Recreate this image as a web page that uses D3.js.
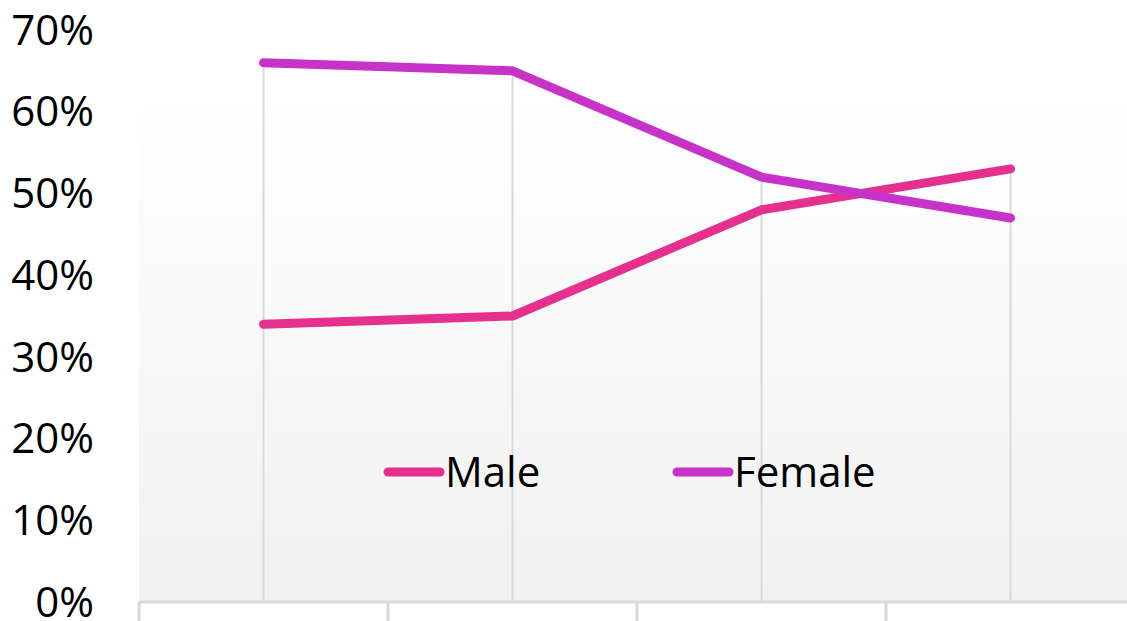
<!DOCTYPE html>
<html><head><meta charset="utf-8">
<script src="https://cdn.jsdelivr.net/npm/d3@7"></script>
<style>body{margin:0;background:#fff}svg{display:block}</style>
</head><body>
<svg id="c" width="1127" height="621"></svg>
<script>
const categories = ["A","B","C","D"];
const maleValues = [0.34, 0.35, 0.48, 0.53];
const femaleValues = [0.66, 0.65, 0.52, 0.47];
const yTicks = [0,0.1,0.2,0.3,0.4,0.5,0.6,0.7];
const seriesNames = ["Male","Female"];
const colors = ["#e5318d","#c733c9"];

const svg = d3.select("#c");
const mLeft = 139, mRight = 1135, mTop = 30, mBottom = 602;
const x = d3.scaleBand().domain(categories).range([mLeft, mRight]).padding(0);
const y = d3.scaleLinear().domain([0,0.7]).range([mBottom, mTop]);

const defs = svg.append("defs");
const g = defs.append("linearGradient").attr("id","bg").attr("x1",0).attr("y1",0).attr("x2",0).attr("y2",1);
g.append("stop").attr("offset","0%").attr("stop-color","#ffffff");
g.append("stop").attr("offset","100%").attr("stop-color","#f1f1f1");
svg.append("rect").attr("x",mLeft).attr("y",100).attr("width",1127-mLeft).attr("height",mBottom-100).attr("fill","url(#bg)");

// drop lines at category centers (from highest point to axis)
svg.append("g").selectAll("line").data(categories).join("line")
  .attr("x1",d=>x(d)+x.bandwidth()/2).attr("x2",d=>x(d)+x.bandwidth()/2)
  .attr("y1",(d,i)=>y(Math.max(maleValues[i],femaleValues[i]))).attr("y2",mBottom)
  .attr("stroke","#d9d9d9").attr("stroke-width",2);

// x axis
const xAxis = d3.axisBottom(x).tickSize(20).tickFormat("");
const xg = svg.append("g").attr("transform",`translate(0,${mBottom})`).call(xAxis);
xg.select(".domain").attr("d",`M${mLeft},0H1127`).attr("stroke","#d9d9d9").attr("stroke-width",3);
xg.selectAll(".tick").attr("transform",d=>`translate(${x(d)},0)`);
xg.selectAll(".tick line").attr("stroke","#d9d9d9").attr("stroke-width",3);

// y axis labels
const yAxis = d3.axisLeft(y).tickValues(yTicks).tickFormat(d3.format(".0%")).tickSize(0).tickPadding(0);
const yg = svg.append("g").attr("transform",`translate(94,0)`).call(yAxis);
yg.select(".domain").remove();
yg.selectAll("text").attr("font-family","Open Sans").attr("font-size",42).attr("fill","#000").attr("dy","0.34em");

const line = d3.line().x((d,i)=>x(categories[i])+x.bandwidth()/2).y(d=>y(d));
[maleValues, femaleValues].forEach((vals,i)=>{
  svg.append("path").attr("d",line(vals)).attr("fill","none")
    .attr("stroke",colors[i]).attr("stroke-width",9)
    .attr("stroke-linecap","round").attr("stroke-linejoin","round");
});

// legend
const legX = [388, 677];
seriesNames.forEach((n,i)=>{
  const lg = svg.append("g").attr("transform",`translate(${legX[i]},472)`);
  lg.append("line").attr("x1",0).attr("x2",52).attr("y1",0).attr("y2",0)
    .attr("stroke",colors[i]).attr("stroke-width",9).attr("stroke-linecap","round");
  lg.append("text").attr("x",57).attr("y",0).attr("dy","0.35em")
    .attr("font-family","Open Sans").attr("font-size",42).attr("fill","#000").text(n);
});
</script>
</body></html>
